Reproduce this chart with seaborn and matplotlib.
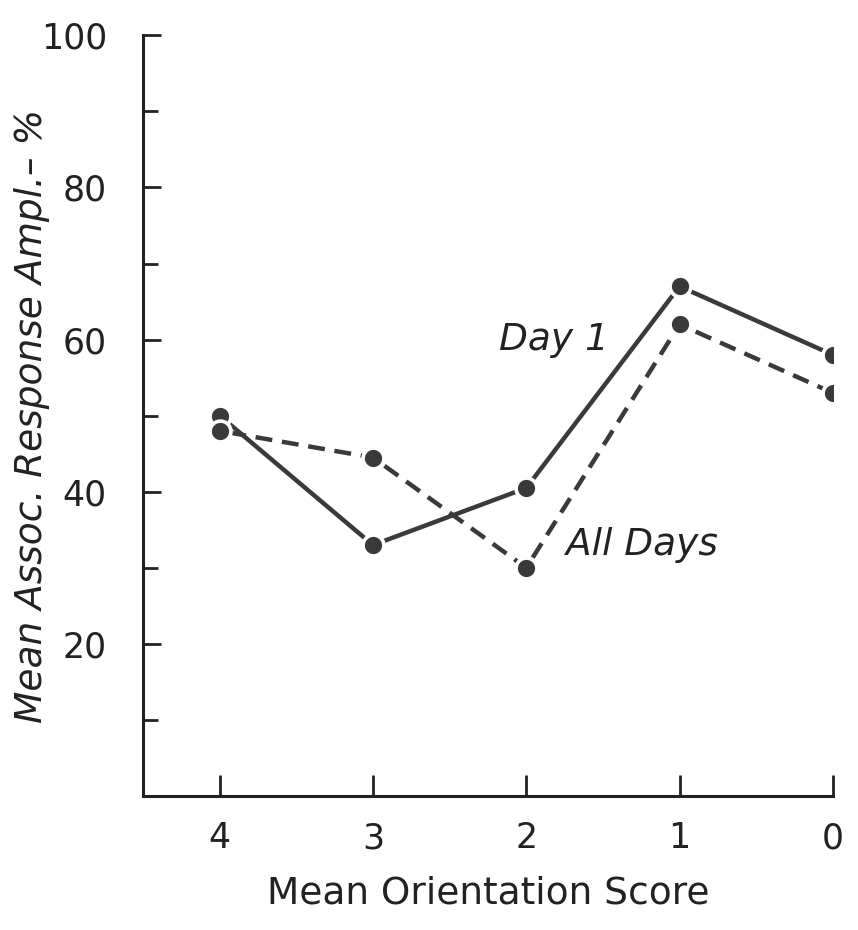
import matplotlib
matplotlib.use("Agg")
import matplotlib.pyplot as plt
import seaborn as sns
import pandas as pd
from matplotlib.ticker import MultipleLocator

scores = [4, 3, 2, 1, 0]
day1 = [50, 33, 40.5, 67, 58]
all_days = [48, 44.5, 30, 62, 53]
ytick_vals = [20, 40, 60, 80, 100]
ytick_labels = ["20", "40", "60", "80", "100"]
xtick_labels = ["4", "3", "2", "1", "0"]

sns.set_theme(style="ticks")
plt.rcParams["font.family"] = ["DejaVu Sans"]

df = pd.DataFrame({
    "score": scores * 2,
    "value": day1 + all_days,
    "series": ["Day 1"] * 5 + ["All Days"] * 5,
})

fig = plt.figure(figsize=(8.58, 9.30), dpi=100)
ax = fig.add_axes([0.1667, 0.144, 0.804, 0.818])

col = "#3a3a3a"
txt = "#222222"
sns.lineplot(data=df[df.series == "Day 1"], x="score", y="value", ax=ax,
             color=col, lw=3.2, marker="o", markersize=15,
             markeredgecolor="white", markeredgewidth=2.6)
sns.lineplot(data=df[df.series == "All Days"], x="score", y="value", ax=ax,
             color=col, lw=3.2, marker="o", markersize=15,
             markeredgecolor="white", markeredgewidth=2.6,
             linestyle=(0, (3.8, 2.2)))

ax.set_xlim(4.5, 0)
ax.set_ylim(0, 100)
ax.set_xticks(scores)
ax.set_xticklabels(xtick_labels, fontsize=25)
ax.set_yticks(ytick_vals)
ax.set_yticklabels(ytick_labels, fontsize=25)
ax.yaxis.set_minor_locator(MultipleLocator(10))

for s in ["top", "right"]:
    ax.spines[s].set_visible(False)
for s in ["left", "bottom"]:
    ax.spines[s].set_linewidth(2.2)
    ax.spines[s].set_color(txt)

ax.tick_params(axis="both", which="both", direction="in", width=2.0, color=txt,
               labelcolor=txt)
ax.tick_params(axis="y", which="major", length=13, pad=26)
ax.tick_params(axis="y", which="minor", length=11)
ax.tick_params(axis="x", which="major", length=15, pad=18)

ax.set_xlabel("Mean Orientation Score", fontsize=27, color=txt)
ax.set_ylabel("Mean Assoc. Response Ampl.– %", fontsize=27, color=txt,
              style="italic")
ax.yaxis.set_label_coords(-0.135, 0.5)
ax.xaxis.set_label_coords(0.5, -0.105)

ax.text(2.18, 60, "Day 1", fontsize=27, style="italic", color=txt,
        va="center", ha="left")
ax.text(1.74, 33, "All Days", fontsize=27, style="italic", color=txt,
        va="center", ha="left")

fig.savefig("out.png", dpi=100, facecolor="white")
